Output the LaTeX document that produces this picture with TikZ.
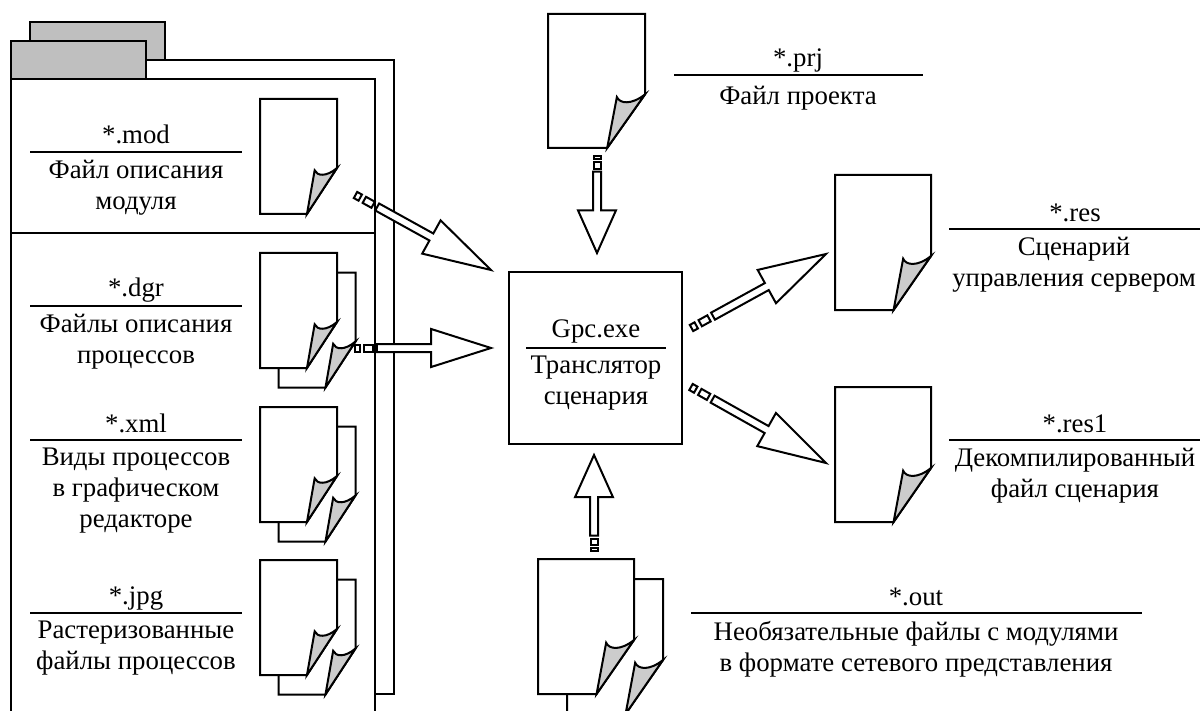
\documentclass[tikz,border=0pt]{standalone}
\usepackage{fontspec}
\setmainfont{Liberation Serif}
\usetikzlibrary{calc}
\tikzset{
  docpage/.pic={
    \draw[fill=white] (0,0) -- (1,0) -- (1,.6) -- (.61,1) -- (0,1) -- cycle;
    \draw[fill=curlgray] (.61,1) -- (.71,.62) .. controls (.74,.67) and (.86,.68) .. (1,.6) -- cycle;
  }
}
\definecolor{curlgray}{gray}{0.8}
\definecolor{tabgray}{gray}{0.75}
\newcommand{\fatarrow}[2]{%
  \path let \p1=($(#2)-(#1)$), \n1={atan2(\y1,\x1)}, \n2={veclen(\x1,\y1)} in
    \pgfextra{\xdef\aang{\n1}\xdef\alen{\n2}};
  \begin{scope}[shift={(#1)}, rotate=\aang, x=\alen, y=1pt, fill=white]
    \draw[fill] (0,-3.5) rectangle (.035,3.5);
    \draw[fill] (.065,-3.5) rectangle (.13,3.5);
    \draw[fill] (.16,-4) -- (.56,-4) -- (.56,-19) -- (1,0) -- (.56,19) -- (.56,4) -- (.16,4) -- cycle;
  \end{scope}}
\begin{document}
\begin{tikzpicture}[x=1pt, y=-1pt, line width=2pt, line join=miter,
  lbl/.style={anchor=north, inner sep=0pt, align=center, font=\fontsize{26.8}{31}\selectfont, execute at begin node=\strut},
  capt/.style={line width=2pt},
  tab/.style={draw, fill=tabgray},
  small/.style={xscale=77, yscale=115},
  large/.style={xscale=96, yscale=135}]
\useasboundingbox (0,0) rectangle (1201,711);

\draw (165,60) -- (394,60) -- (394,694) -- (375,694);
\draw[tab] (30,60) -- (30,22) -- (165,22) -- (165,60) -- cycle;
\draw[fill=white] (375,79) -- (375,720) -- (11,720) -- (11,79) -- cycle;
\draw[tab] (11,79) rectangle (146,41.5);
\draw (11,233) -- (375,233);

\pic[shift={(260,99)}, small] {docpage};
\foreach \ytop in {253,407,560} {
  \pic[shift={(278.5,\ytop+19.5)}, small] {docpage};
  \pic[shift={(260,\ytop)}, small] {docpage};
}
\pic[shift={(548,14)}, xscale=97, yscale=134] {docpage};
\pic[shift={(835,175)}, large] {docpage};
\pic[shift={(835,387)}, large] {docpage};
\pic[shift={(567,579)}, large] {docpage};
\pic[shift={(538,559)}, large] {docpage};

\node[lbl] (modext) at (136,121) {*.mod};
\draw[capt] (30,152) -- (242,152);
\node[lbl] (moddesc) at (136,159) {Файл описания\\модуля};
\node[lbl] (dgrext) at (136,274) {*.dgr};
\draw[capt] (30,306) -- (242,306);
\node[lbl] (dgrdesc) at (136,313) {Файлы описания\\процессов};
\node[lbl] (xmlext) at (136,410) {*.xml};
\draw[capt] (30,440) -- (242,440);
\node[lbl] (xmldesc) at (136,447) {Виды процессов\\в графическом\\редакторе};
\node[lbl] (jpgext) at (136,582) {*.jpg};
\draw[capt] (30,613) -- (242,613);
\node[lbl] (jpgdesc) at (136,620) {Растеризованные\\файлы процессов};

\node[lbl] (prjext) at (798,44) {*.prj};
\draw[capt] (674,75) -- (923,75);
\node[lbl] (prjdesc) at (798,82) {Файл проекта};
\node[lbl] (resext) at (1075,199) {*.res};
\draw[capt] (949,229) -- (1200,229);
\node[lbl] (resdesc) at (1074,236) {Сценарий\\управления сервером};
\node[lbl] (resoneext) at (1075,410) {*.res1};
\draw[capt] (949,440) -- (1200,440);
\node[lbl] (resonedesc) at (1075,447) {Декомпилированный\\файл сценария};
\node[lbl] (outext) at (916,583) {*.out};
\draw[capt] (691,613) -- (1142,613);
\node[lbl] (outdesc) at (916,620) {Необязательные файлы с модулями\\в формате сетевого представления};

\node[draw, minimum width=173pt, minimum height=172pt, inner sep=0pt] (gpc) at (595.5,358) {};
\node[lbl] (gpcext) at (596,315) {Gpc.exe};
\draw[capt] (526,348) -- (666,348);
\node[lbl] (gpcdesc) at (596,355) {Транслятор\\сценария};

\coordinate (modtail) at (355.5,195);
\coordinate (modtip) at (491,270);
\coordinate (dgrtail) at (355,348);
\coordinate (dgrtip) at (491,348);
\coordinate (prjtail) at (597,156);
\coordinate (prjtip) at (597,253);
\coordinate (outtail) at (594,551);
\coordinate (outtip) at (594,455);
\coordinate (restail) at (691.5,328);
\coordinate (restip) at (826,254);
\coordinate (resonetail) at (691,387);
\coordinate (resonetip) at (826,463);

\fatarrow{modtail}{modtip}
\fatarrow{dgrtail}{dgrtip}
\fatarrow{prjtail}{prjtip}
\fatarrow{outtail}{outtip}
\fatarrow{restail}{restip}
\fatarrow{resonetail}{resonetip}
\end{tikzpicture}
\end{document}
